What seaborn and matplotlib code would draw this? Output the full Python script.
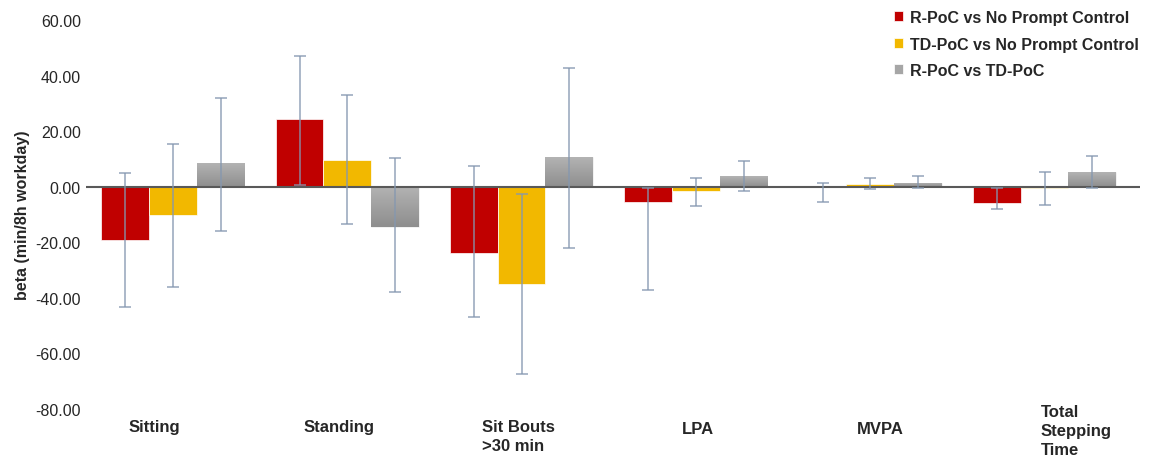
import numpy as np
import pandas as pd
import seaborn as sns
from matplotlib import pyplot as plt
from matplotlib import transforms
from matplotlib.colors import LinearSegmentedColormap

categories = ['Sitting', 'Standing', 'Sit Bouts\n>30 min', 'LPA', 'MVPA', 'Total\nStepping\nTime']
series = ['R-PoC vs No Prompt Control', 'TD-PoC vs No Prompt Control', 'R-PoC vs TD-PoC']

# beta values
r_vs_ctrl = [-19.1, 24.4, -24.0, -5.6, 0.0, -5.9]
td_vs_ctrl = [-10.3, 9.7, -34.9, -1.7, 1.1, -0.4]
r_vs_td = [8.6, -14.5, 10.7, 3.8, 1.5, 5.4]

# confidence interval ends (lower, upper)
r_vs_ctrl_lo = [-43.2, 0.5, -46.8, -37.3, -5.6, -8.0]
r_vs_ctrl_hi = [4.9, 47.0, 7.3, -0.5, 1.5, -0.5]
td_vs_ctrl_lo = [-36.0, -13.4, -67.4, -7.1, -0.7, -6.5]
td_vs_ctrl_hi = [15.5, 33.1, -2.6, 3.3, 3.3, 5.3]
r_vs_td_lo = [-15.9, -37.9, -22.0, -1.5, -0.6, -0.5]
r_vs_td_hi = [31.8, 10.3, 42.9, 9.2, 3.7, 11.2]

colors = ['#c00000', '#f2b800', '#a6a6a6']

values = [r_vs_ctrl, td_vs_ctrl, r_vs_td]
lows = [r_vs_ctrl_lo, td_vs_ctrl_lo, r_vs_td_lo]
highs = [r_vs_ctrl_hi, td_vs_ctrl_hi, r_vs_td_hi]

df = pd.DataFrame({
    'category': categories * 3,
    'series': [s for s in series for _ in categories],
    'beta': r_vs_ctrl + td_vs_ctrl + r_vs_td,
})

sns.set_style('white')
plt.rcParams['font.family'] = ['Liberation Sans', 'DejaVu Sans']

fig = plt.figure(figsize=(11.59, 4.6), dpi=100)
ax = fig.add_axes([0.074, 0.109, 0.91, 0.845])

sns.barplot(data=df, x='category', y='beta', hue='series', hue_order=series,
            palette=colors, width=0.82, saturation=1, ax=ax, errorbar=None,
            edgecolor='white', linewidth=0.5)

bar_containers = list(ax.containers)

# grey bars get the light-to-dark gradient of the Excel fill
grad = LinearSegmentedColormap.from_list('grey_grad', ['#b3b3b3', '#8e8e8e'])
for p in bar_containers[2].patches:
    x0, w = p.get_x(), p.get_width()
    y0, h = p.get_y(), p.get_height()
    ybot, ytop = min(y0, y0 + h), max(y0, y0 + h)
    im = ax.imshow(np.linspace(0, 1, 64).reshape(-1, 1), cmap=grad, aspect='auto',
                   extent=(x0, x0 + w, ybot, ytop), origin='upper', zorder=p.get_zorder() + 0.1)
    im.set_clip_path(p)

# error bars on top of each bar
for i, cont in enumerate(bar_containers):
    xs = [p.get_x() + p.get_width() / 2 for p in cont.patches]
    v = np.array(values[i])
    lo = v - np.array(lows[i])
    hi = np.array(highs[i]) - v
    ax.errorbar(xs, v, yerr=[lo, hi], fmt='none', ecolor='#8497b0', alpha=0.8,
                elinewidth=1.2, capsize=4, capthick=1.2, zorder=4)

ax.axhline(0, color='#595959', lw=1.5, zorder=3)
ax.set_ylim(-80, 60)
ax.set_xlim(-0.5, 5.55)
ax.set_yticks(np.arange(-80, 61, 20))
ax.set_yticklabels([f'{t:.2f}' for t in np.arange(-80, 61, 20)], fontsize=11.5)
ax.set_ylabel('beta (min/8h workday)', fontsize=11.5, fontweight='bold')
ax.set_xlabel('')
ax.set_xticklabels([])
ax.tick_params(axis='x', length=0)
ax.tick_params(axis='y', length=0)
sns.despine(ax=ax, left=True, bottom=True)

# category labels placed like the Excel original
label_dx = [-0.105, -0.05, -0.02, 0.01, 0.06, 0.18]
label_y = [-0.025, -0.025, -0.025, -0.03, -0.03, 0.013]
trans = transforms.blended_transform_factory(ax.transData, ax.transAxes)
for i, lab in enumerate(categories):
    ax.text(i + label_dx[i], label_y[i], lab, transform=trans, ha='center', va='top',
            multialignment='left', fontsize=12, fontweight='bold', linespacing=1.33)

ax.legend(loc='upper right', bbox_to_anchor=(1.012, 1.063), frameon=False,
          prop={'weight': 'bold', 'size': 11.5}, handlelength=0.6, handleheight=0.6,
          handletextpad=0.4, labelspacing=0.72)

plt.savefig('out.png', dpi=100)
